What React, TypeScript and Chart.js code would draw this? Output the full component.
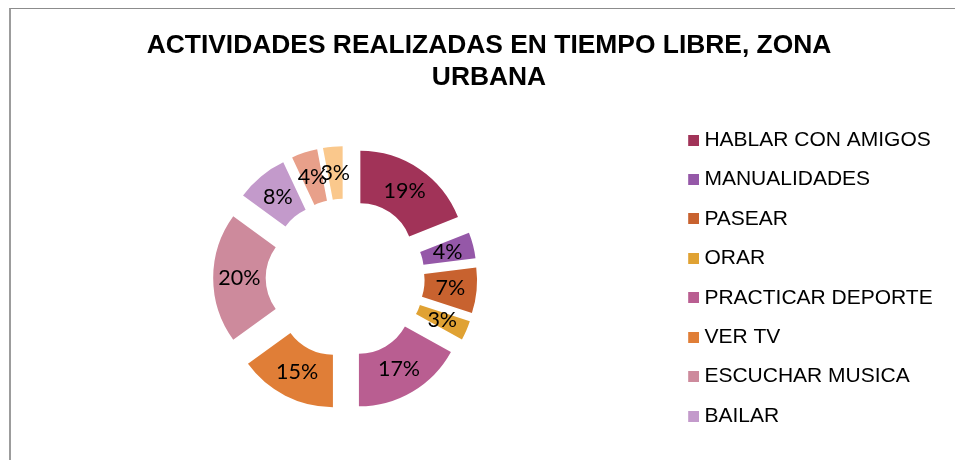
import React, { useEffect, useRef } from 'react';
import { Chart, registerables } from 'chart.js';

Chart.register(...registerables);

const titleLines = ['ACTIVIDADES REALIZADAS EN TIEMPO LIBRE, ZONA', 'URBANA'];
const categories = [
  'HABLAR CON AMIGOS',
  'MANUALIDADES',
  'PASEAR',
  'ORAR',
  'PRACTICAR DEPORTE',
  'VER TV',
  'ESCUCHAR MUSICA',
  'BAILAR',
  'LEER',
  'OTROS',
];
const values = [19, 4, 7, 3, 17, 15, 20, 8, 4, 3];
const colors = [
  '#A13358',
  '#9558A8',
  '#C8622F',
  '#E0A233',
  '#B95E91',
  '#E07E37',
  '#CD8A9C',
  '#C39ACB',
  '#E8A08A',
  '#FAC88C',
];
const legendShown = 8;

const EXPLODE = 27;

function makeSwatch(color: string) {
  const c = document.createElement('canvas');
  c.width = 31;
  c.height = 11;
  const g = c.getContext('2d');
  if (g) {
    g.fillStyle = color;
    g.fillRect(20, 0, 11, 11);
  }
  return c;
}

const explodePlugin = {
  id: 'explode',
  beforeDatasetDraw(chart: any, args: any) {
    const ctx = chart.ctx;
    args.meta.data.forEach((arc: any) => {
      const mid = (arc.startAngle + arc.endAngle) / 2;
      ctx.save();
      ctx.translate(Math.cos(mid) * EXPLODE, Math.sin(mid) * EXPLODE);
      arc.draw(ctx);
      ctx.restore();
    });
    return false;
  },
};

const labelPlugin = {
  id: 'sliceLabels',
  afterDatasetsDraw(chart: any) {
    const ctx = chart.ctx;
    const meta = chart.getDatasetMeta(0);
    const data = chart.data.datasets[0].data as number[];
    ctx.save();
    ctx.font = '21.5px Lato, "Open Sans", sans-serif';
    ctx.fillStyle = '#000000';
    ctx.textAlign = 'center';
    ctx.textBaseline = 'middle';
    meta.data.forEach((arc: any, i: number) => {
      const mid = (arc.startAngle + arc.endAngle) / 2;
      const r = (arc.innerRadius + arc.outerRadius) / 2 + EXPLODE;
      const x = arc.x + Math.cos(mid) * r;
      const y = arc.y + Math.sin(mid) * r;
      ctx.fillText(`${data[i]}%`, x, y);
    });
    ctx.restore();
  },
};

export default function App() {
  const ref = useRef<HTMLCanvasElement>(null);

  useEffect(() => {
    if (!ref.current) return;
    const baseGen = (Chart as any).overrides.doughnut.plugins.legend.labels.generateLabels;
    const chart = new Chart(ref.current, {
      type: 'doughnut',
      data: {
        labels: categories,
        datasets: [
          {
            data: values,
            backgroundColor: colors,
            borderWidth: 0,
            radius: 105,
            cutout: '50%',
          } as any,
        ],
      },
      options: {
        animation: false,
        responsive: false,
        maintainAspectRatio: false,
        layout: { padding: { left: 27.3, right: 11.3, top: 0, bottom: 0 } },
        plugins: {
          title: {
            display: true,
            text: titleLines,
            color: '#000000',
            font: { family: '"Liberation Sans", Arial, sans-serif', size: 26.4, weight: 'bold', lineHeight: 1.225 },
            padding: { top: 21.5, bottom: 10 },
          },
          legend: {
            display: true,
            position: 'right',
            fullSize: false,
            align: 'center',
            labels: {
              color: '#000000',
              font: { family: '"Liberation Sans", Arial, sans-serif', size: 21 },
              usePointStyle: true,
              pointStyleWidth: 20.4,
              boxHeight: 11,
              padding: 18.43,
              generateLabels: (chart: any) =>
                baseGen(chart).map((it: any) => ({ ...it, pointStyle: makeSwatch(it.fillStyle) })),
              filter: (item: any) => item.index < legendShown,
            },
          },
          tooltip: { enabled: false },
        },
      } as any,
      plugins: [explodePlugin, labelPlugin],
    });
    return () => chart.destroy();
  }, []);

  return (
    <div style={{ position: 'relative', width: 946, height: 444 }}>
      <div
        style={{
          position: 'fixed',
          top: 8,
          left: 9,
          right: 0,
          bottom: -20,
          borderTop: '1px solid #8c8c8c',
          borderLeft: '2px solid #9c9c9c',
          pointerEvents: 'none',
        }}
      />
      <canvas
        ref={ref}
        width={946}
        height={444}
        style={{ position: 'absolute', left: 0, top: 0, width: 946, height: 444 }}
      />
    </div>
  );
}
